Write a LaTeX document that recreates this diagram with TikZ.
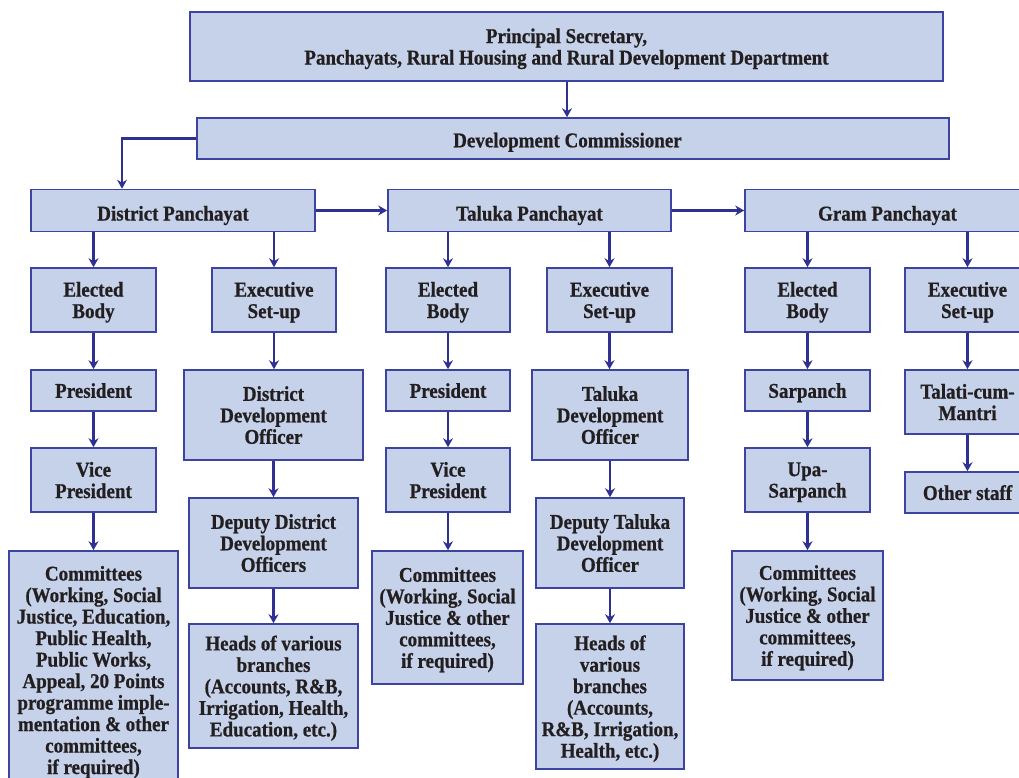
\documentclass[tikz,border=0pt]{standalone}
\usepackage{fontspec}
\setmainfont{Liberation Serif}[FakeStretch=0.905, BoldFeatures={FakeBold=0.7}]
\usetikzlibrary{arrows.meta,calc}
\definecolor{boxfill}{HTML}{C6D2EA}
\definecolor{boxline}{HTML}{3C44A0}
\definecolor{arrowc}{HTML}{2E3192}
\definecolor{txt}{HTML}{231F20}
\begin{document}
\begin{tikzpicture}[x=1pt,y=-1pt,
  bx/.style={draw=boxline, line width=1.6pt, fill=boxfill, text=txt, align=center,
    inner sep=0pt, text depth=0pt, font=\fontsize{21}{21.5}\selectfont\bfseries},
  lowtext/.style={text height=20pt, text depth=0pt},
  conn/.style={draw=arrowc, line width=2.5pt, -{Stealth[length=9pt,width=10pt,inset=3pt]}}]
\useasboundingbox (0,0) rectangle (1019,778);
% top levels
\node[bx, minimum width=753pt, minimum height=69pt] (top) at (566.5,46.5)
  {Principal Secretary,\\Panchayats, Rural Housing and Rural Development Department};
\node[bx, lowtext, text height=17.6pt, minimum width=752pt, minimum height=41pt] (dc) at (573,138.5) {Development Commissioner\hspace*{11pt}};
\node[bx, lowtext, minimum width=284pt, minimum height=42pt] (dp) at (173,210.5) {District Panchayat};
\node[bx, lowtext, minimum width=283pt, minimum height=42pt] (tp) at (529.5,210.5) {Taluka Panchayat};
\node[bx, lowtext, minimum width=285pt, minimum height=42pt] (gp) at (887.5,210.5) {Gram Panchayat};
% second row
\node[bx, minimum width=125pt, minimum height=64pt] (eD) at (93.5,300) {Elected\\Body};
\node[bx, minimum width=124pt, minimum height=64pt] (xD) at (274,300) {Executive\\Set-up};
\node[bx, minimum width=124pt, minimum height=64pt] (eT) at (448,300) {Elected\\Body};
\node[bx, minimum width=125pt, minimum height=64pt] (xT) at (609.5,300) {Executive\\Set-up};
\node[bx, minimum width=125pt, minimum height=64pt] (eG) at (807.5,300) {Elected\\Body};
\node[bx, minimum width=125pt, minimum height=64pt] (xG) at (967.5,300) {Executive\\Set-up};
% third row
\node[bx, minimum width=125pt, minimum height=41pt] (presD) at (93.5,390.5) {President};
\node[bx, minimum width=179pt, minimum height=90pt] (ddo) at (273.5,415) {District\\Development\\Officer};
\node[bx, minimum width=124pt, minimum height=41pt] (presT) at (448,390.5) {President};
\node[bx, minimum width=156pt, minimum height=90pt] (tdo) at (610,415) {Taluka\\Development\\Officer};
\node[bx, minimum width=125pt, minimum height=41pt] (sar) at (807.5,390.5) {Sarpanch};
\node[bx, minimum width=125pt, minimum height=64pt] (tal) at (967.5,402) {Talati-cum-\\Mantri};
% fourth row
\node[bx, minimum width=125pt, minimum height=64pt] (viceD) at (93.5,480) {Vice\\President};
\node[bx, minimum width=169pt, minimum height=90pt] (dddo) at (273.5,543) {Deputy District\\Development\\Officers};
\node[bx, minimum width=124pt, minimum height=64pt] (viceT) at (448,480) {Vice\\President};
\node[bx, minimum width=148pt, minimum height=90pt] (dtdo) at (610,543) {Deputy Taluka\\Development\\Officer};
\node[bx, minimum width=125pt, minimum height=64pt] (upa) at (807.5,480) {Upa-\\Sarpanch};
\node[bx, minimum width=125pt, minimum height=41pt] (other) at (967.5,492.5) {Other staff};
% bottom row
\node[bx, minimum width=169pt, minimum height=238pt] (comD) at (93.5,670)
  {Committees\\(Working, Social\\Justice, Education,\\Public Health,\\Public Works,\\Appeal, 20 Points\\programme imple-\\mentation \& other\\committees,\\if required)};
\node[bx, minimum width=169pt, minimum height=124pt] (headsD) at (273.5,686)
  {Heads of various\\branches\\(Accounts, R\&B,\\Irrigation, Health,\\Education, etc.)};
\node[bx, minimum width=151pt, minimum height=133pt] (comT) at (447.5,617.5)
  {Committees\\(Working, Social\\Justice \& other\\committees,\\if required)};
\node[bx, minimum width=148pt, minimum height=145pt] (headsT) at (610,696.5)
  {Heads of\\various\\branches\\(Accounts,\\R\&B, Irrigation,\\Health, etc.)};
\node[bx, minimum width=151pt, minimum height=129pt] (comG) at (807.5,615.5)
  {Committees\\(Working, Social\\Justice \& other\\committees,\\if required)};
% connectors
\coordinate (dpin) at ([xshift=-51pt]dp.north);
\draw[conn] ([xshift=0.5pt]top.south) -- ([xshift=0.5pt]top.south |- dc.north);
\draw[conn] (dc.west) -| (dpin);
\draw[conn] (dp.east) -- (tp.west);
\draw[conn] (tp.east) -- (gp.west);
\draw[conn] (dp.south -| eD.north) -- (eD.north);
\draw[conn] (dp.south -| xD.north) -- (xD.north);
\draw[conn] (tp.south -| eT.north) -- (eT.north);
\draw[conn] (tp.south -| xT.north) -- (xT.north);
\draw[conn] (gp.south -| eG.north) -- (eG.north);
\draw[conn] (gp.south -| xG.north) -- (xG.north);
\draw[conn] (eD.south) -- (presD.north);
\draw[conn] (presD.south) -- (viceD.north);
\draw[conn] (viceD.south) -- (comD.north);
\draw[conn] (xD.south) -- (xD.south |- ddo.north);
\draw[conn] (ddo.south) -- (ddo.south |- dddo.north);
\draw[conn] (dddo.south) -- (dddo.south |- headsD.north);
\draw[conn] (eT.south) -- (presT.north);
\draw[conn] (presT.south) -- (viceT.north);
\draw[conn] (viceT.south) -- (viceT.south |- comT.north);
\draw[conn] (xT.south) -- (xT.south |- tdo.north);
\draw[conn] (tdo.south) -- (tdo.south |- dtdo.north);
\draw[conn] (dtdo.south) -- (dtdo.south |- headsT.north);
\draw[conn] (eG.south) -- (sar.north);
\draw[conn] (sar.south) -- (upa.north);
\draw[conn] (upa.south) -- (comG.north);
\draw[conn] (xG.south) -- (tal.north);
\draw[conn] (tal.south) -- (other.north);
\end{tikzpicture}
\end{document}
